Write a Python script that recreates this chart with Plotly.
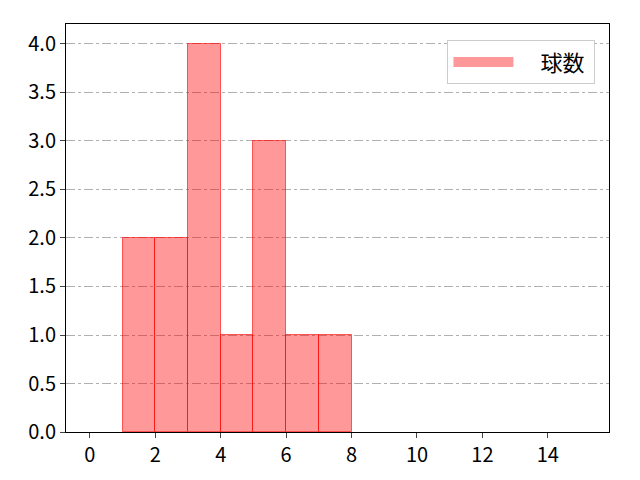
import plotly.graph_objects as go

# histogram bins (left edges) and counts
bin_left = [1, 2, 3, 4, 5, 6, 7]
counts = [2, 2, 4, 1, 3, 1, 1]
series_name = "球数"

x_ticks = [0, 2, 4, 6, 8, 10, 12, 14]
y_ticks = [0.0, 0.5, 1.0, 1.5, 2.0, 2.5, 3.0, 3.5, 4.0]

fig = go.Figure()
fig.add_trace(go.Bar(
    x=[b + 0.5 for b in bin_left], y=counts, width=1, name=series_name,
    marker=dict(color="rgba(255,0,0,0.4)", line=dict(color="rgba(255,0,0,0.6)", width=1)),
    showlegend=False,
))
# legend entry drawn as a wide patch, with a gap before the label
fig.add_trace(go.Scatter(
    x=[None], y=[None], mode="lines", name="\u2003" + series_name + " ",
    line=dict(color="rgba(255,0,0,0.4)", width=16),
))

fig.update_layout(
    width=640, height=480,
    margin=dict(l=58, r=39, t=16, b=56),
    plot_bgcolor="white", paper_bgcolor="white",
    font=dict(family="Noto Sans CJK JP, DejaVu Sans", size=20, color="black"),
    bargap=0,
    legend=dict(x=0.975, y=0.96, xanchor="right", yanchor="top",
                bordercolor="#cccccc", borderwidth=1, bgcolor="white",
                font=dict(size=22), itemwidth=60),
)
fig.update_xaxes(range=[-0.73, 15.87], tickvals=x_ticks, ticks="outside", ticklen=5,
                 showgrid=False, showline=True, linecolor="black", mirror=True, zeroline=False)
fig.update_yaxes(range=[0, 4.206], tickvals=y_ticks, ticktext=[f"{v:.1f}" for v in y_ticks],
                 ticks="outside", ticklen=5, showgrid=True, gridcolor="#b0b0b0", griddash="dashdot",
                 gridwidth=1, showline=True, linecolor="black", mirror=True, zeroline=False)

fig.write_html("out.html")
